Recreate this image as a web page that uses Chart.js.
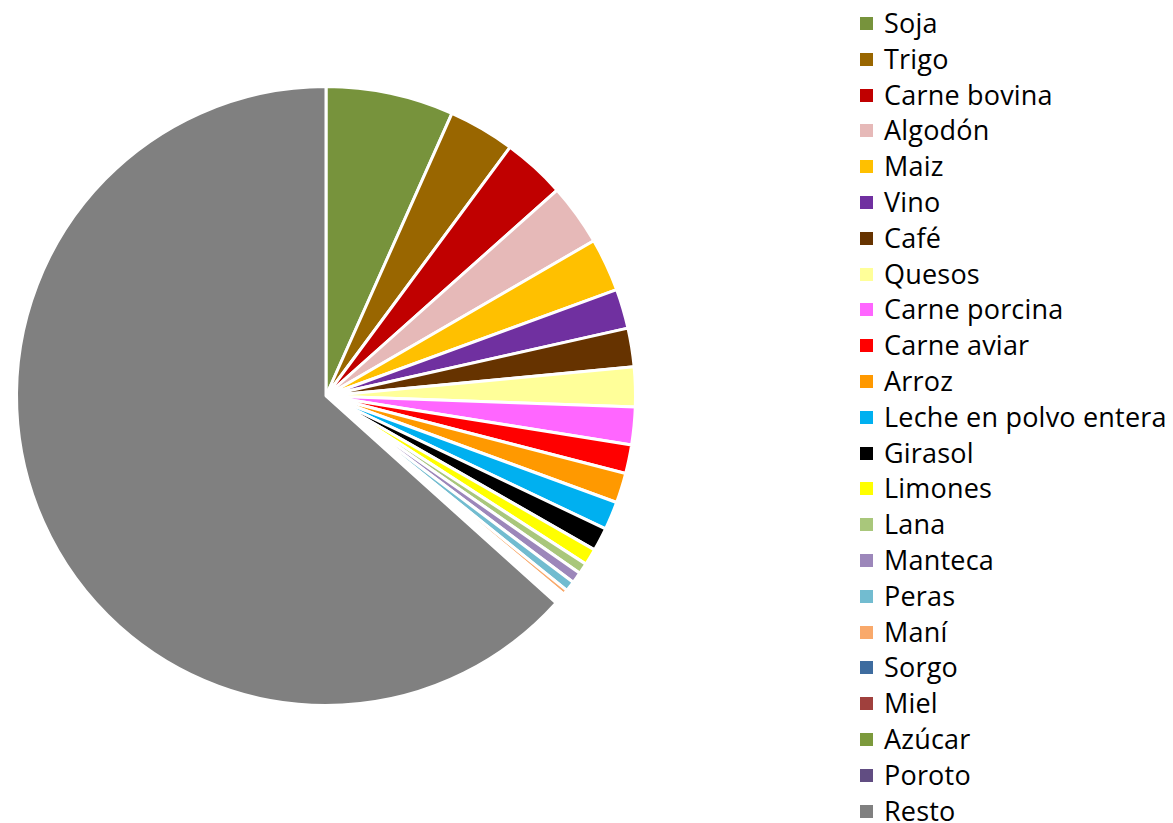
<!DOCTYPE html>
<html>
<head>
<meta charset="utf-8">
<script src="https://cdn.jsdelivr.net/npm/chart.js@4.4.1/dist/chart.umd.min.js"></script>
<style>
  html, body { margin: 0; padding: 0; background: #ffffff; }
  body { width: 1173px; height: 823px; position: relative; overflow: hidden; font-family: "Open Sans", "Noto Sans", sans-serif; }
  #pieWrap { position: absolute; left: 0; top: 0; width: 652px; height: 823px; }
  #legend { position: absolute; left: 860px; top: 5px; }
  .item { position: absolute; left: 0; height: 36px; white-space: nowrap; }
  .box { position: absolute; left: 0; width: 13px; height: 13px; }
  .lbl { position: absolute; left: 24px; font-size: 27px; color: #000; line-height: 36px; top: -12px; letter-spacing: 0.2px; }
</style>
</head>
<body>
<div id="pieWrap"><canvas id="c"></canvas></div>
<div id="legend"></div>
<script>
const categories = ["Soja","Trigo","Carne bovina","Algodón","Maiz","Vino","Café","Quesos","Carne porcina","Carne aviar","Arroz","Leche en polvo entera","Girasol","Limones","Lana","Manteca","Peras","Maní","Sorgo","Miel","Azúcar","Poroto","Resto"];
const shares = [6.67,3.47,3.28,3.22,2.78,2.06,2.01,2.07,1.97,1.50,1.56,1.47,1.22,0.86,0.56,0.58,0.53,0.25,0.15,0.15,0.15,0.15,63.34];
const colors = ["#77933C","#996600","#C00000","#E6B9B8","#FFC000","#7030A0","#663300","#FFFF99","#FF66FF","#FF0000","#FF9900","#00B0F0","#000000","#FFFF00","#A9C77B","#9C87BA","#72BCD0","#F9A96B","#3E6C9F","#A0403D","#7C9A3C","#614D82","#808080"];

new Chart(document.getElementById('c'), {
  type: 'pie',
  data: {
    labels: categories,
    datasets: [{
      data: shares,
      backgroundColor: colors,
      borderColor: '#ffffff',
      borderWidth: 3
    }]
  },
  options: {
    responsive: true,
    maintainAspectRatio: false,
    animation: false,
    layout: { padding: { top: 85, bottom: 116, left: 15, right: 15 } },
    plugins: { legend: { display: false }, tooltip: { enabled: false } }
  }
});

const legend = document.getElementById('legend');
const pitch = 35.8;
categories.forEach((name, i) => {
  const item = document.createElement('div');
  item.className = 'item';
  item.style.top = (12 + i * pitch) + 'px';
  const box = document.createElement('div');
  box.className = 'box';
  box.style.background = colors[i];
  const lbl = document.createElement('div');
  lbl.className = 'lbl';
  lbl.textContent = name;
  item.appendChild(box);
  item.appendChild(lbl);
  legend.appendChild(item);
});
</script>
</body>
</html>
